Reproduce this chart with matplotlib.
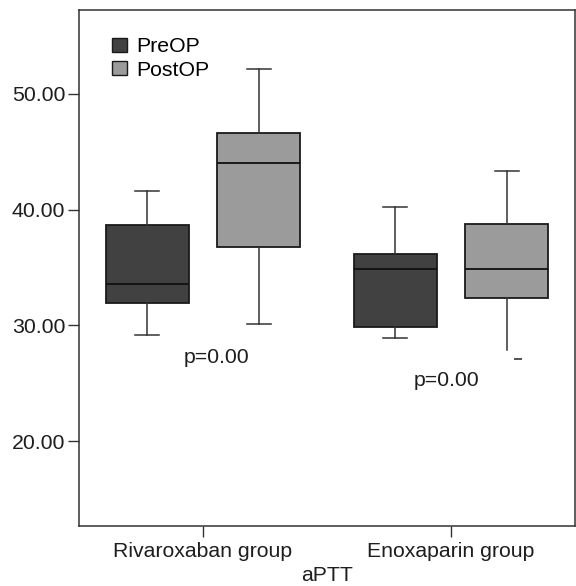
import matplotlib
matplotlib.use("Agg")
import matplotlib.pyplot as plt
from matplotlib.patches import Patch
from matplotlib import font_manager

# data (aPTT, seconds)
groups = ["Rivaroxaban group", "Enoxaparin group"]
series = ["PreOP", "PostOP"]
colors = ["#414141", "#9b9b9b"]
# [whisker low, Q1, median, Q3, whisker high] per group
pre_stats = [[29.2, 31.9, 33.6, 38.7, 41.6],
             [28.9, 29.85, 34.9, 36.2, 40.25]]
post_stats = [[30.1, 36.8, 44.0, 46.6, 52.2],
              [27.9, 32.4, 34.9, 38.75, 43.3]]
post_outliers = [None, 27.1]
p_texts = ["p=0.00", "p=0.00"]
p_y = [27.2, 25.2]
p_dx = [0.054, -0.018]
yticks = [20, 30, 40, 50]

# font: condensed arial-like if present
names = {f.name for f in font_manager.fontManager.ttflist}
fam = "Liberation Sans Narrow" if "Liberation Sans Narrow" in names else "Liberation Sans"
plt.rcParams["font.family"] = [fam, "DejaVu Sans"]
FS = 16.5 if fam.endswith("Narrow") else 15.3

fig = plt.figure(figsize=(5.76, 5.86), dpi=100)
ax = fig.add_axes([79 / 576, 1 - 525.7 / 586, 496 / 576, 515.7 / 586])

offset = 0.224
width = 0.335


def make_stats(s):
    return dict(whislo=s[0], q1=s[1], med=s[2], q3=s[3], whishi=s[4], fliers=[])


for k, (stats, col) in enumerate(zip([pre_stats, post_stats], colors)):
    pos = [i + (-offset if k == 0 else offset) for i in range(len(groups))]
    art = ax.bxp([make_stats(s) for s in stats], positions=pos, widths=width,
                 patch_artist=True, showfliers=False, manage_ticks=False,
                 boxprops=dict(facecolor=col, edgecolor="#1a1a1a", linewidth=1.3),
                 medianprops=dict(color="#111111", linewidth=1.3),
                 whiskerprops=dict(color="#333333", linewidth=1.1),
                 capprops=dict(color="#333333", linewidth=1.1),
                 capwidths=0.097)
    if k == 1:
        # lower cap of enoxaparin PostOP not drawn in the original
        art["caps"][2].set_visible(False)

# small outlier dash
for i, v in enumerate(post_outliers):
    if v is not None:
        ax.plot(i + offset + 0.045, v, marker="_", color="#333333",
                markersize=6, mew=1.2)

# p values
for i, (t, yv) in enumerate(zip(p_texts, p_y)):
    ax.text(i + p_dx[i], yv, t, ha="center", va="center", fontsize=FS, color="#1e1e1e")

ax.set_xlim(-0.5, 1.5)
ax.set_ylim(12.68, 57.26)
ax.set_xticks(range(len(groups)))
ax.set_xticklabels(groups, fontsize=FS, color="#1e1e1e")
ax.set_yticks(yticks)
ax.set_yticklabels([f"{v:.2f}" for v in yticks], fontsize=FS, color="#1e1e1e")
ax.tick_params(length=8, width=1.0, color="#333333")
ax.tick_params(axis="x", pad=4)
ax.tick_params(axis="y", pad=2)
ax.set_xlabel("aPTT", fontsize=FS, color="#1e1e1e", labelpad=3)
for sp in ax.spines.values():
    sp.set_linewidth(1.1)
    sp.set_color("#333333")

handles = [Patch(facecolor=c, edgecolor="#1a1a1a", linewidth=1.0) for c in colors]
ax.legend(handles, series, loc="upper left", bbox_to_anchor=(0.067, 0.947),
          frameon=False, fontsize=FS, borderpad=0, handlelength=0.68,
          handleheight=0.68, handletextpad=0.45, labelspacing=0.2,
          borderaxespad=0)

fig.savefig("out.png", dpi=100)
